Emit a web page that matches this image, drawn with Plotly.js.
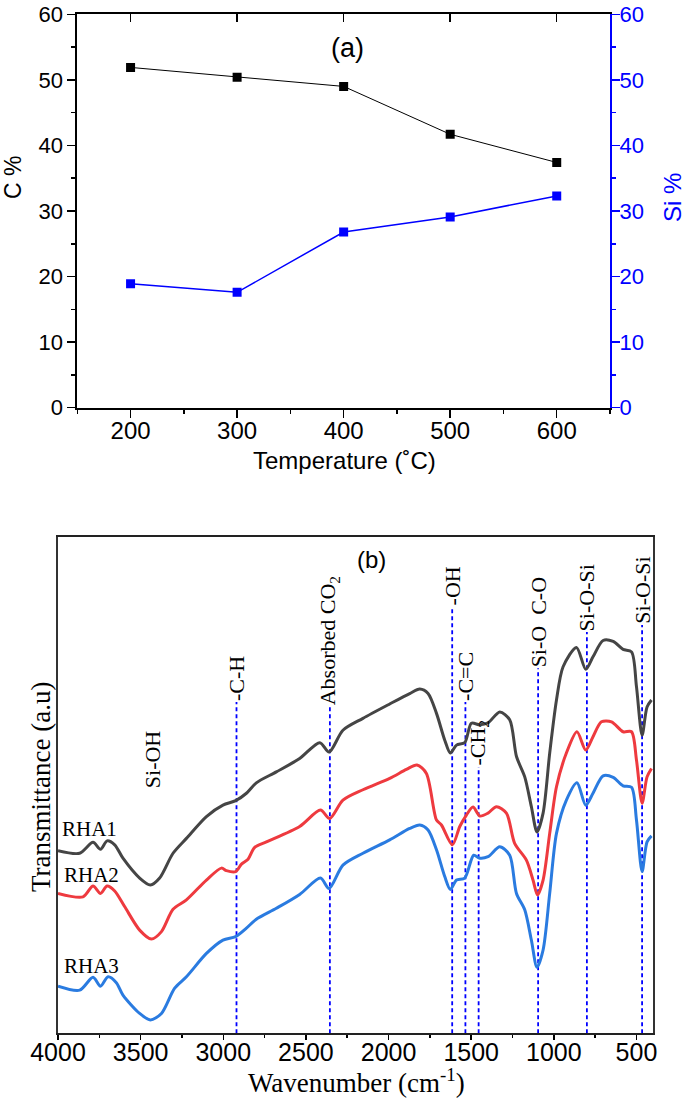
<!DOCTYPE html>
<html>
<head>
<meta charset="utf-8">
<script src="https://cdn.plot.ly/plotly-3.0.1.min.js"></script>
<style>html,body{margin:0;padding:0;background:#fff;}#chart{width:685px;height:1100px;}</style>
</head>
<body>
<div id="chart"></div>
<script>
// ---- Panel (a) data ----
const temperature = [200, 300, 400, 500, 600];
const carbonPct = [51.9, 50.4, 49.0, 41.7, 37.4];
const siliconPct = [18.9, 17.6, 26.8, 29.1, 32.3];

// ---- Panel (b) data: FTIR spectra ----
const rha1Wn = [4000,3869,3788,3743,3703,3657,3607,3506,3441,3385,3304,3223,3102,3002,2925,2860,2800,2679,2538,2416,2360,2276,2155,1993,1872,1811,1761,1710,1660,1626,1589,1539,1499,1448,1398,1327,1267,1226,1176,1136,1102,1065,1025,984,944,863,807,763,702,641,581,530,500,466,436,409];
const rha1T = [36.8,36.3,38.5,37.1,38.8,38.0,35.3,31.3,29.9,31.3,36.3,39.3,43.7,46.0,46.9,48.4,50.5,52.7,55.4,58.6,56.7,61.1,63.5,66.4,68.5,69.4,68.5,64.5,59.1,56.5,58.1,58.6,62.5,62.2,62.6,64.8,63.2,55.8,51.7,45.7,40.6,44.4,56.5,67.2,73.9,77.8,73.4,75.9,79.2,79.0,77.4,76.9,69.9,60.1,65.8,67.2];

const rha2Wn = [4000,3849,3788,3743,3703,3657,3596,3506,3435,3374,3304,3223,3102,3011,2981,2925,2890,2850,2810,2739,2538,2412,2356,2276,2155,1993,1892,1828,1771,1710,1680,1614,1569,1529,1489,1448,1398,1347,1287,1237,1166,1126,1099,1065,1025,984,924,860,807,763,712,651,581,530,500,466,436,409];
const rha2T = [28.2,27.5,29.7,28.2,29.7,28.7,25.5,20.8,19.0,20.5,25.0,26.9,30.9,33.3,32.8,32.6,34.1,35.1,37.5,38.6,41.7,45.0,43.3,47.0,49.1,51.4,53.2,54.1,52.4,43.0,42.0,38.0,41.7,44.0,45.6,43.8,44.4,45.7,44.4,38.3,34.9,30.9,27.9,30.9,40.3,49.7,56.5,60.8,57.1,59.8,62.8,62.8,60.8,60.8,55.1,46.4,51.7,53.4];

const rha3Wn = [4000,3869,3788,3743,3697,3647,3607,3506,3441,3374,3294,3223,3102,3002,2925,2860,2800,2679,2538,2412,2360,2276,2155,1993,1872,1811,1761,1710,1660,1626,1589,1539,1485,1448,1398,1327,1267,1226,1176,1136,1102,1065,1025,984,924,860,807,763,702,641,581,530,500,466,436,409];
const rha3T = [9.5,8.7,11.3,9.5,11.4,10.2,7.7,4.0,2.7,4.0,9.1,11.4,16.1,18.8,19.5,21.2,23.0,25.2,28.0,31.3,29.2,33.9,36.3,39.0,41.3,42.0,41.0,37.0,31.6,29.0,30.9,31.3,35.9,35.3,35.6,37.6,35.9,28.2,24.9,18.8,13.3,16.8,28.2,40.3,47.0,50.5,46.0,48.4,51.9,51.6,49.9,49.6,43.0,32.6,38.6,39.8];

const seriesNames = ['RHA1', 'RHA2', 'RHA3'];

// band assignments
const bandWavenumbers = [2920, 2355, 1615, 1535, 1455, 1095, 800, 466];
const bandTops = [66.8, 66.0, 86.0, 66.8, 53.7, 73.6, 80.9, 82.3];
const bandLabels = ['-C-H', 'Absorbed CO<sub>2</sub>', '-OH', '-C=C', '-CH<sub>2</sub>', 'Si-O  C-O', 'Si-O-Si', 'Si-O-Si'];

const SANS = 'Liberation Sans, Arial, sans-serif';
const SERIF = 'Liberation Serif, Times New Roman, serif';
const BLUE = '#0000ff';

const traces = [];
// Panel (a)
traces.push({x: temperature, y: carbonPct, xaxis: 'x', yaxis: 'y', mode: 'lines+markers', name: 'C %',
  line: {color: '#000000', width: 1}, marker: {symbol: 'square', size: 9, color: '#000000'}});
traces.push({x: temperature, y: siliconPct, xaxis: 'x', yaxis: 'y2', mode: 'lines+markers', name: 'Si %',
  line: {color: BLUE, width: 1.5}, marker: {symbol: 'square', size: 9, color: BLUE}});
// invisible trace to activate top tick axis
traces.push({x: temperature, y: carbonPct, xaxis: 'x3', yaxis: 'y', mode: 'markers', marker: {opacity: 0}, hoverinfo: 'skip', showlegend: false});

// Panel (b): band lines
for (let i = 0; i < bandWavenumbers.length; i++) {
  traces.push({x: [bandWavenumbers[i], bandWavenumbers[i]], y: [0, bandTops[i]], xaxis: 'x2', yaxis: 'y3',
    mode: 'lines', line: {color: BLUE, width: 1.8, dash: '4px,3px'}, hoverinfo: 'skip'});
}
const spectra = [[rha1Wn, rha1T, '#454545'], [rha2Wn, rha2T, '#ee3a3f'], [rha3Wn, rha3T, '#2a7be0']];
spectra.forEach((s, i) => {
  traces.push({x: s[0], y: s[1], xaxis: 'x2', yaxis: 'y3', mode: 'lines', name: seriesNames[i],
    line: {color: s[2], width: 3, shape: 'spline', smoothing: 0.8}});
});

function pAnn(text, px, py, size, family, color, angle) {
  return {text: text, xref: 'paper', yref: 'paper', x: px/685, y: 1 - py/1100, xanchor: 'center', yanchor: 'middle',
    textangle: angle || 0, showarrow: false, font: {family: family, size: size, color: color || '#000'}};
}

const annotations = [
  pAnn('(a)', 347, 48, 27, SANS),
  pAnn('C %', 13, 178, 23, SANS, '#000', -90),
  pAnn('Si %', 673, 198, 24, SANS, BLUE, -90),
  pAnn('Temperature (˚C)', 344, 460, 24, SANS),
  pAnn('(b)', 371, 559, 24, SANS),
  pAnn('Transmittance (a.u)', 41, 787, 27, SERIF, '#000', -90),
  pAnn('Wavenumber (cm<sup>-1</sup>)', 356, 1081, 27, SERIF),
  {text: 'Si-OH', xref: 'x2', yref: 'y3', x: 3430, y: 55.3, xanchor: 'center', yanchor: 'middle', textangle: -90, showarrow: false, font: {family: SERIF, size: 22, color: '#000'}},
  {text: 'RHA1', xref: 'x2', yref: 'y3', x: 3985, y: 41.2, xanchor: 'left', yanchor: 'middle', showarrow: false, font: {family: SERIF, size: 21, color: '#000'}},
  {text: 'RHA2', xref: 'x2', yref: 'y3', x: 3975, y: 31.9, xanchor: 'left', yanchor: 'middle', showarrow: false, font: {family: SERIF, size: 21, color: '#000'}},
  {text: 'RHA3', xref: 'x2', yref: 'y3', x: 3975, y: 13.5, xanchor: 'left', yanchor: 'middle', showarrow: false, font: {family: SERIF, size: 21, color: '#000'}}
];
for (let i = 0; i < bandWavenumbers.length; i++) {
  annotations.push({text: bandLabels[i], xref: 'x2', yref: 'y3', x: bandWavenumbers[i], y: bandTops[i],
    yanchor: 'bottom', xanchor: 'center', textangle: -90, showarrow: false, borderpad: 0,
    font: {family: SERIF, size: 22, color: '#000'}});
}

const layout = {
  width: 685, height: 1100,
  margin: {l: 0, r: 0, t: 0, b: 0},
  paper_bgcolor: '#ffffff', plot_bgcolor: '#ffffff',
  showlegend: false,
  xaxis: {domain: [77.3/685, 610/685], anchor: 'y', range: [150, 650], dtick: 100, tick0: 0,
    ticks: 'outside', ticklen: 8, tickwidth: 1.5, tickcolor: '#000', ticklabelstandoff: -8,
    minor: {ticks: 'outside', ticklen: 4, dtick: 50, tick0: 0, tickwidth: 1.5, tickcolor: '#000'},
    showline: true, linewidth: 2, linecolor: '#000', showgrid: false, zeroline: false,
    tickfont: {family: SANS, size: 24, color: '#000'}},
  xaxis3: {overlaying: 'x', side: 'top', anchor: 'y', range: [150, 650], dtick: 100, tick0: 0,
    ticks: 'inside', ticklen: 8, tickwidth: 1.5, tickcolor: '#000', showticklabels: false,
    showline: true, linewidth: 2, linecolor: '#000', showgrid: false, zeroline: false},
  yaxis: {domain: [1 - 407.7/1100, 1 - 14.3/1100], anchor: 'x', range: [0, 60], dtick: 10,
    ticks: 'outside', ticklen: 8, tickwidth: 1.5, tickcolor: '#000',
    minor: {ticks: 'outside', ticklen: 4, dtick: 5, tickwidth: 1.5, tickcolor: '#000'},
    showline: true, linewidth: 2, linecolor: '#000', showgrid: false, zeroline: false,
    tickfont: {family: SANS, size: 22, color: '#000'}},
  yaxis2: {overlaying: 'y', side: 'right', anchor: 'x', range: [0, 60], dtick: 10,
    ticks: 'outside', ticklen: 8, tickwidth: 1.5, tickcolor: BLUE, ticklabelstandoff: -5,
    minor: {ticks: 'outside', ticklen: 4, dtick: 5, tickwidth: 1.5, tickcolor: BLUE},
    showline: true, linewidth: 2, linecolor: BLUE, showgrid: false, zeroline: false,
    tickfont: {family: SANS, size: 22, color: BLUE}},
  xaxis2: {domain: [58/685, 653/685], anchor: 'y3', range: [4000, 400], dtick: 500, tick0: 0,
    ticks: 'outside', ticklen: 5, tickwidth: 1.5, tickcolor: '#000', ticklabelstandoff: -9,
    minor: {ticks: 'outside', ticklen: 3, dtick: 250, tick0: 0, tickwidth: 1.5, tickcolor: '#000'},
    showline: true, mirror: true, linewidth: 2, linecolor: '#222', showgrid: false, zeroline: false,
    tickfont: {family: SANS, size: 25, color: '#000'}},
  yaxis3: {domain: [1 - 1033.3/1100, 1 - 537.3/1100], anchor: 'x2', range: [0, 100],
    showticklabels: false, ticks: '', showline: true, mirror: true, linewidth: 2, linecolor: '#333',
    showgrid: false, zeroline: false},
  annotations: annotations
};

Plotly.newPlot('chart', traces, layout, {staticPlot: true, displayModeBar: false});
</script>
</body>
</html>
